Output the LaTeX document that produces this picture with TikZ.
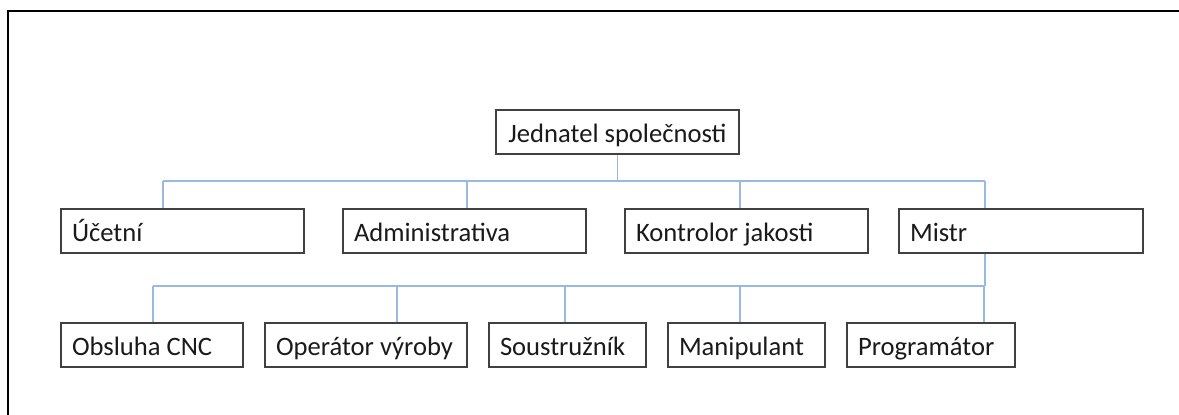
\documentclass[tikz,border=0pt]{standalone}
\usepackage{fontspec}
\setmainfont{Carlito}
\usetikzlibrary{positioning}
\definecolor{ink}{HTML}{1A1A1A}
\definecolor{boxgray}{HTML}{404040}
\definecolor{linkblue}{HTML}{9BB8E4}
\tikzset{
  orgbox/.style={draw=boxgray,fill=white,line width=0.75pt,minimum height=22pt,inner xsep=5.5pt,inner ysep=0pt,text height=13pt,text depth=2.5pt,font=\fontsize{13.3}{15}\selectfont,text=ink},
  leftbox/.style={orgbox,align=flush left,text width=#1},
  link/.style={draw=linkblue,line width=0.75pt},
  frameline/.style={draw=black,line width=1pt}
}
\begin{document}
\begin{tikzpicture}[x=0.5pt,y=-0.5pt]
  \useasboundingbox (0,0) rectangle (1179,415);
  \draw[frameline] (8,415) -- (8,11) -- (1179,11);

  % top
  \node[orgbox,minimum width=121.5pt] (boss) at (617.5,132) {Jednatel společnosti};

  % second row
  \node[leftbox=110.5pt] (acc) at (182.5,231) {Účetní};
  \node[leftbox=110.5pt] (adm) at (464.5,231) {Administrativa};
  \node[leftbox=110.5pt] (qc) at (746.5,231) {Kontrolor jakosti};
  \node[leftbox=111pt] (mistr) at (1021,231) {Mistr};

  % third row
  \node[leftbox=80pt] (cnc) at (152,345) {Obsluha CNC};
  \node[leftbox=90pt] (oper) at (366,345) {Operátor výroby};
  \node[leftbox=67.5pt] (soust) at (567.5,345) {Soustružník};
  \node[leftbox=67.5pt] (manip) at (746.5,345) {Manipulant};
  \node[leftbox=73pt] (prog) at (931,345) {Programátor};

  % connectors
  \coordinate (bus1) at (163,181);
  \coordinate (bus2) at (153,286);
  \draw[link] (boss.south) -- (boss.south |- bus1);
  \draw[link] (bus1) -- (985,181);
  \foreach \n/\x in {acc/163,adm/467,qc/740,mistr/985}
    \draw[link] (\x,181) -- (\x,0 |- \n.north);
  \draw[link] (985,0 |- mistr.south) -- (985,286);
  \draw[link] (bus2) -- (985,286);
  \foreach \n/\x in {cnc/153,oper/397,soust/565,manip/740,prog/984}
    \draw[link] (\x,286) -- (\x,0 |- \n.north);
\end{tikzpicture}
\end{document}
